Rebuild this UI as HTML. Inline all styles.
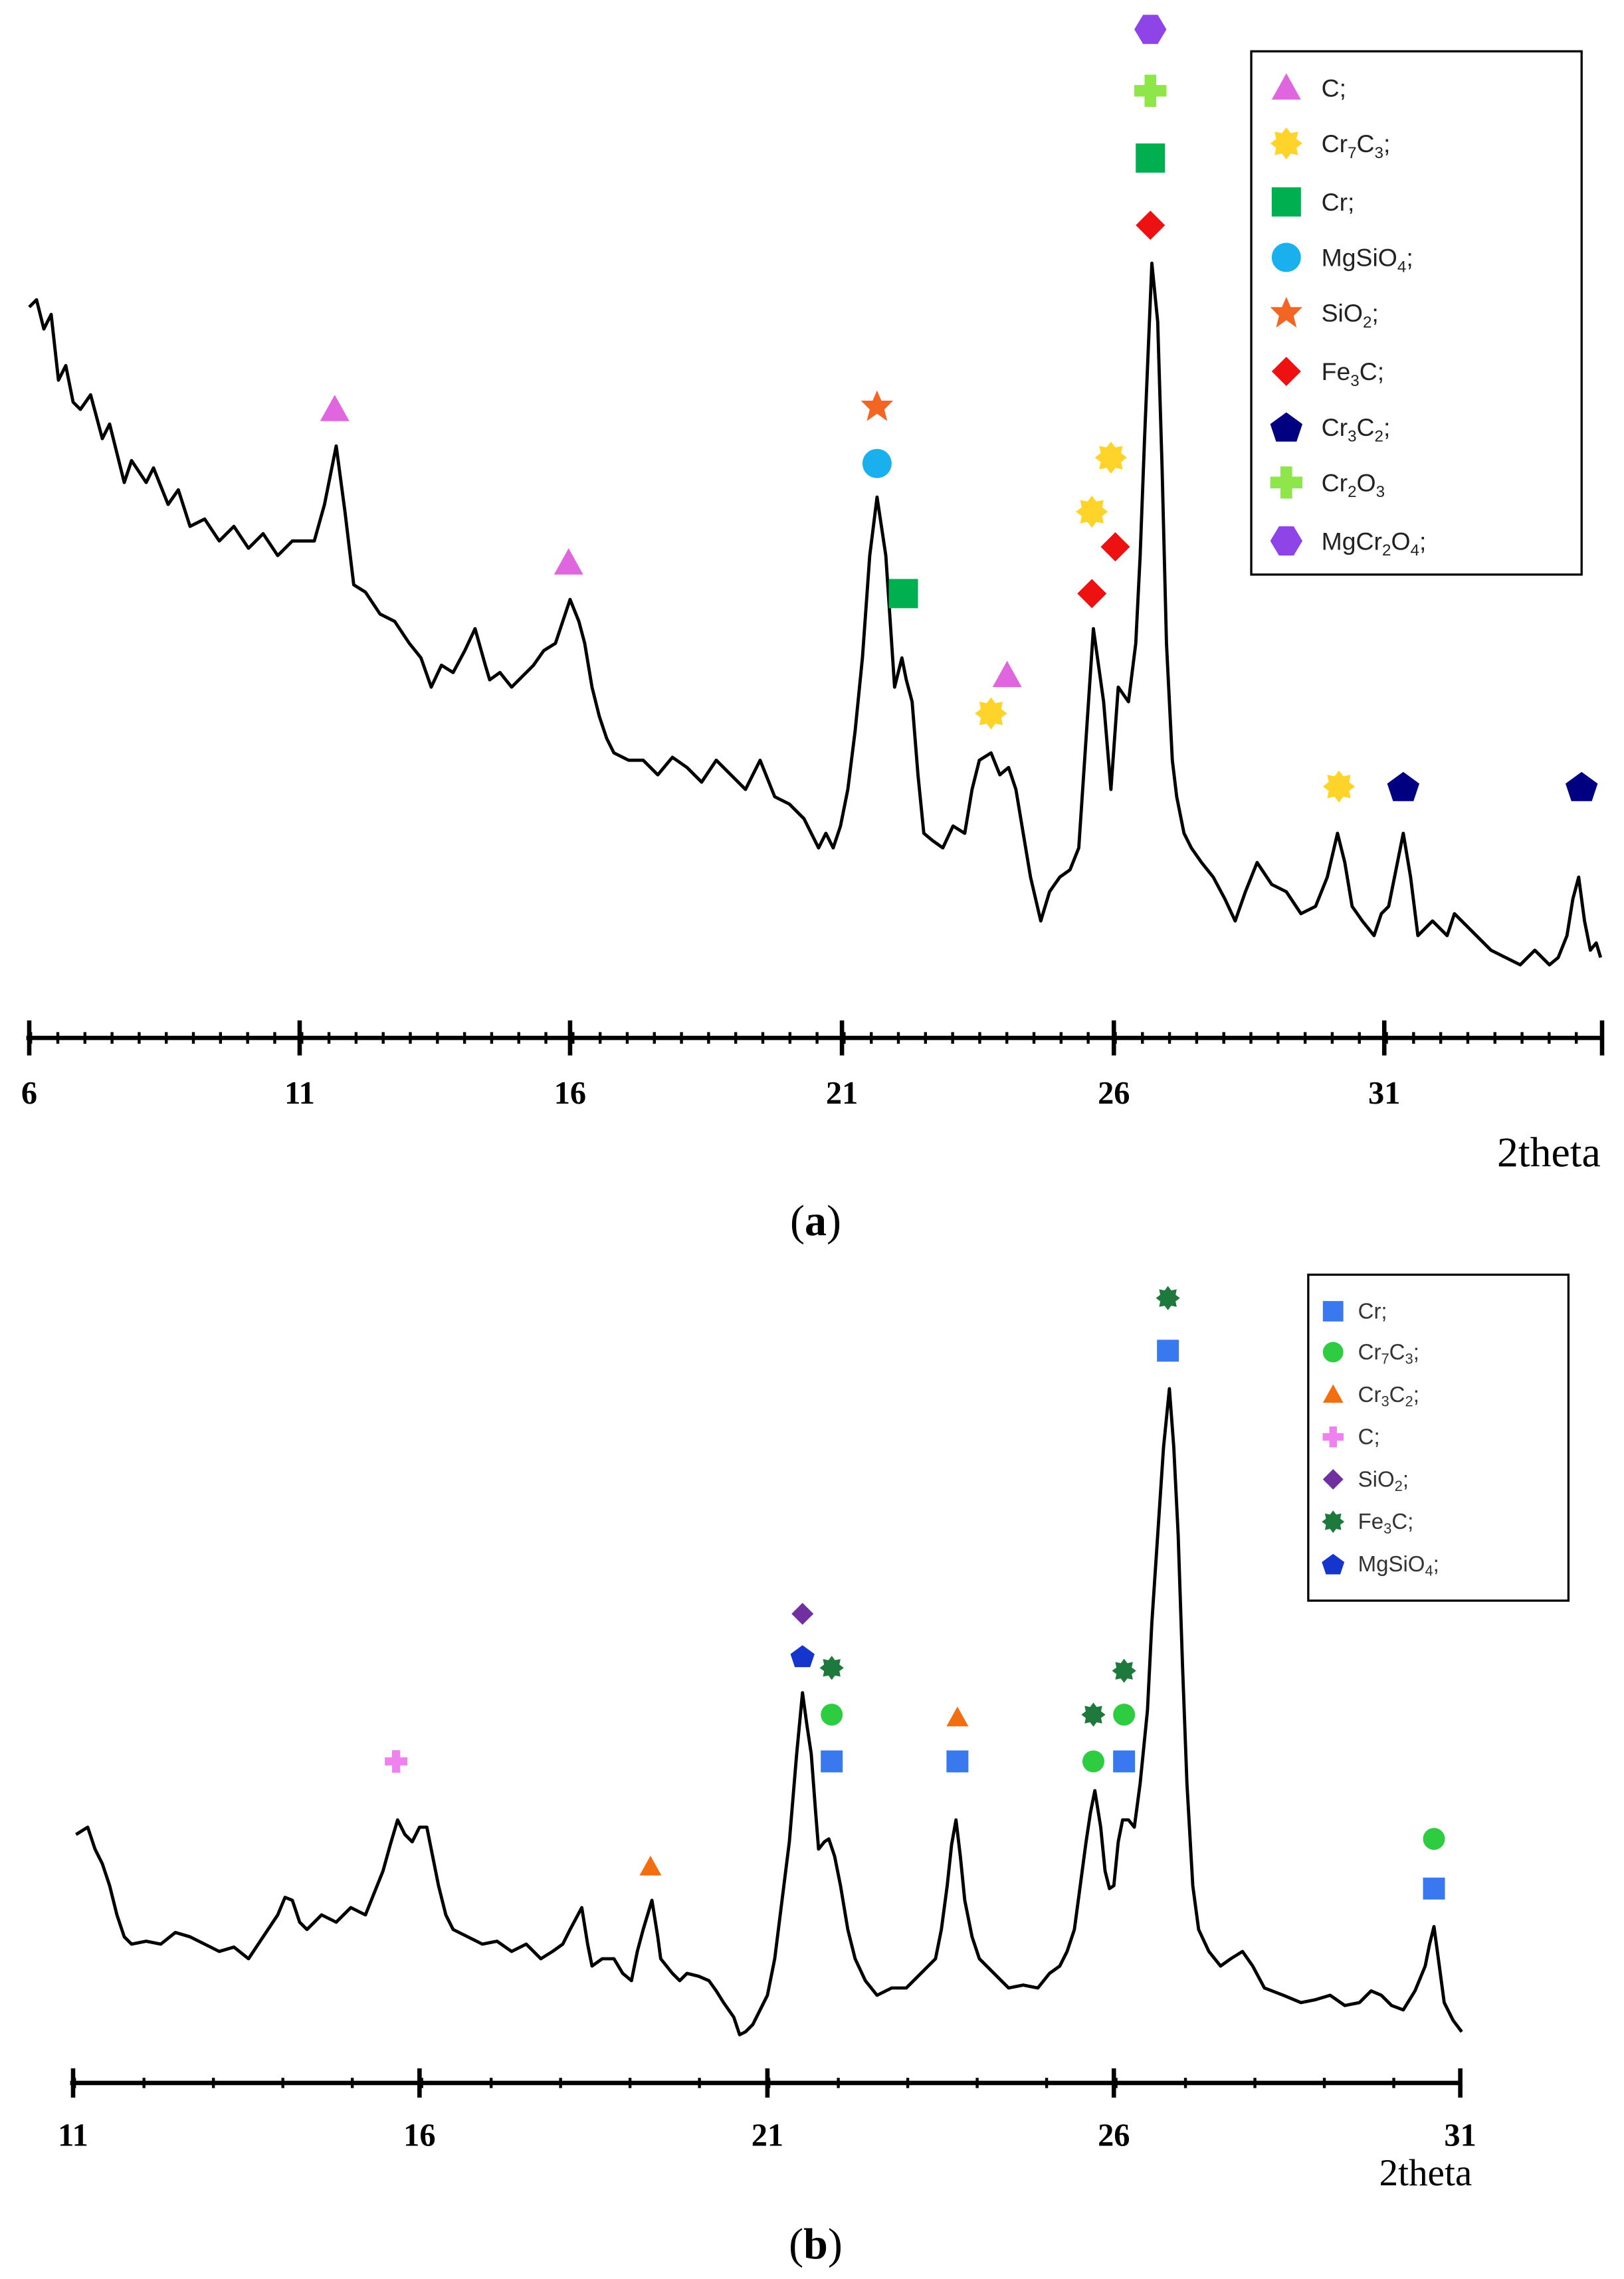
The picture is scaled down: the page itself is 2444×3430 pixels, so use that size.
<!DOCTYPE html>
<html><head><meta charset="utf-8"><style>html,body{margin:0;padding:0;background:#fff}svg{display:block}</style></head>
<body>
<svg width="2444" height="3430" viewBox="0 0 1111 1559" xmlns="http://www.w3.org/2000/svg">
<defs>
<path id="tri" d="M0,-10 L10,8 L-10,8Z"/>
<path id="sq" d="M-10,-10H10V10H-10Z"/>
<path id="dia" d="M0,-10 L10,0 L0,10 L-10,0Z"/>
<path id="plus" d="M-4,-11H4V-4H11V4H4V11H-4V4H-11V-4H-4Z"/>
<path id="hex" d="M-5,-10H5L11,0L5,10H-5L-11,0Z"/>
<path id="pent" d="M0,-10L11,-2L7,10H-7L-11,-2Z"/>
<path id="star5" d="M0,-11L3,-4L11,-4L5,2L7,10L0,5L-7,10L-5,2L-11,-4L-3,-4Z"/>
<path id="sun" d="M0,-11L3,-7L8,-8L7,-3L11,0L7,3L8,8L3,7L0,11L-3,7L-8,8L-7,3L-11,0L-7,-3L-8,-8L-3,-7Z"/>
</defs>
<g font-family="Liberation Serif, serif" font-weight="bold" font-size="22" fill="#000">
<!-- chart a axis -->
<line x1="18" y1="710" x2="1097" y2="710" stroke="#000" stroke-width="3"/>
<line x1="20" y1="710" x2="1097" y2="710" stroke="#000" stroke-width="8" stroke-dasharray="2 16.55"/>
<g stroke="#000" stroke-width="3">
<line x1="20" y1="698" x2="20" y2="722"/><line x1="205" y1="698" x2="205" y2="722"/><line x1="390" y1="698" x2="390" y2="722"/><line x1="576" y1="698" x2="576" y2="722"/><line x1="762" y1="698" x2="762" y2="722"/><line x1="947" y1="698" x2="947" y2="722"/><line x1="1096" y1="698" x2="1096" y2="722"/></g>
<text x="20" y="755" text-anchor="middle">6</text><text x="205" y="755" text-anchor="middle">11</text><text x="390" y="755" text-anchor="middle">16</text><text x="576" y="755" text-anchor="middle">21</text><text x="762" y="755" text-anchor="middle">26</text><text x="947" y="755" text-anchor="middle">31</text>
<text x="1095" y="798" text-anchor="end" font-weight="normal" font-size="29">2theta</text>
<text x="558" y="845" text-anchor="middle" font-weight="normal" font-size="30">(<tspan font-weight="bold">a</tspan>)</text>
</g>
<polyline fill="none" stroke="#000" stroke-width="2.2" stroke-linejoin="round" points="20,210 25,205 30,225 35,215 40,260 45,250 50,275 55,280 62,270 70,300 75,290 85,330 90,315 100,330 105,320 115,345 122,335 130,360 140,355 150,370 160,360 170,375 180,365 190,380 200,370 215,370 222,345 230,305 236,350 242,400 250,405 260,420 270,425 280,440 288,450 295,470 302,455 310,460 318,445 325,430 332,455 335,465 342,460 350,470 358,462 365,455 372,445 380,440 385,425 390,410 396,425 400,440 405,470 410,490 415,505 420,515 430,520 440,520 450,530 460,518 470,525 480,535 490,520 500,530 510,540 520,520 530,545 540,550 550,560 560,580 565,570 570,580 575,565 580,540 585,500 590,450 595,380 600,340 606,380 612,470 617,450 620,465 624,480 628,530 632,570 638,575 645,580 652,565 660,570 665,540 670,520 678,515 684,530 690,525 695,540 700,570 705,600 712,630 718,610 725,600 732,595 738,580 742,520 748,430 755,480 760,540 765,470 772,480 777,440 780,380 783,300 788,180 792,220 795,320 798,440 802,520 805,545 810,570 815,580 822,590 830,600 838,615 845,630 852,610 860,590 870,605 880,610 890,625 900,620 908,600 915,570 920,590 925,620 932,630 940,640 945,625 950,620 955,595 960,570 965,600 970,640 980,630 990,640 995,625 1000,630 1010,640 1020,650 1030,655 1040,660 1050,650 1060,660 1066,655 1072,640 1076,615 1080,600 1084,630 1088,650 1092,645 1095,655"/>
<!-- markers a -->
<g fill="#e066e0"><use href="#tri" x="229" y="280"/><use href="#tri" x="389" y="385"/><use href="#tri" x="689" y="462"/></g>
<g fill="#ffd42a"><use href="#sun" x="678" y="488"/><use href="#sun" x="747" y="350"/><use href="#sun" x="760" y="313"/><use href="#sun" x="916" y="538"/></g>
<use href="#star5" x="600" y="278" fill="#f26522"/>
<circle cx="600" cy="317" r="10" fill="#1ab0ee"/>
<g fill="#00b050"><use href="#sq" x="618" y="406"/><use href="#sq" x="787" y="108"/></g>
<g fill="#ee1111"><use href="#dia" x="747" y="406"/><use href="#dia" x="763" y="374"/><use href="#dia" x="787" y="154"/></g>
<use href="#plus" x="787" y="62" fill="#8ee64a"/>
<use href="#hex" x="787" y="20" fill="#8f44e8"/>
<g fill="#000080"><use href="#pent" x="960" y="538"/><use href="#pent" x="1082" y="538"/></g>
<!-- legend a -->
<rect x="856" y="35" width="226" height="358" fill="#fff" stroke="#000" stroke-width="1.5"/>
<g font-family="Liberation Sans, sans-serif" font-size="17" fill="#222">
<use href="#tri" x="880" y="60" fill="#e066e0"/><text x="904" y="66">C;</text>
<use href="#sun" x="880" y="98" fill="#ffd42a"/><text x="904" y="104">Cr<tspan font-size="11" dy="4">7</tspan><tspan dy="-4">C</tspan><tspan font-size="11" dy="4">3</tspan><tspan dy="-4">;</tspan></text>
<use href="#sq" x="880" y="138" fill="#00b050"/><text x="904" y="144">Cr;</text>
<circle cx="880" cy="176" r="10" fill="#1ab0ee"/><text x="904" y="182">MgSiO<tspan font-size="11" dy="4">4</tspan><tspan dy="-4">;</tspan></text>
<use href="#star5" x="880" y="214" fill="#f26522"/><text x="904" y="220">SiO<tspan font-size="11" dy="4">2</tspan><tspan dy="-4">;</tspan></text>
<use href="#dia" x="880" y="254" fill="#ee1111"/><text x="904" y="260">Fe<tspan font-size="11" dy="4">3</tspan><tspan dy="-4">C;</tspan></text>
<use href="#pent" x="880" y="292" fill="#000080"/><text x="904" y="298">Cr<tspan font-size="11" dy="4">3</tspan><tspan dy="-4">C</tspan><tspan font-size="11" dy="4">2</tspan><tspan dy="-4">;</tspan></text>
<use href="#plus" x="880" y="330" fill="#8ee64a"/><text x="904" y="336">Cr<tspan font-size="11" dy="4">2</tspan><tspan dy="-4">O</tspan><tspan font-size="11" dy="4">3</tspan></text>
<use href="#hex" x="880" y="370" fill="#8f44e8"/><text x="904" y="376">MgCr<tspan font-size="11" dy="4">2</tspan><tspan dy="-4">O</tspan><tspan font-size="11" dy="4">4</tspan><tspan dy="-4">;</tspan></text>
</g>

<!-- chart b -->
<g font-family="Liberation Serif, serif" font-weight="bold" font-size="22" fill="#000">
<line x1="48" y1="1425" x2="1000" y2="1425" stroke="#000" stroke-width="3"/>
<line x1="50" y1="1425" x2="1000" y2="1425" stroke="#000" stroke-width="7" stroke-dasharray="2 45.5"/>
<g stroke="#000" stroke-width="3"><line x1="50" y1="1415" x2="50" y2="1435"/><line x1="287" y1="1415" x2="287" y2="1435"/><line x1="525" y1="1415" x2="525" y2="1435"/><line x1="762" y1="1415" x2="762" y2="1435"/><line x1="999" y1="1415" x2="999" y2="1435"/></g>
<text x="50" y="1468" text-anchor="middle">11</text><text x="287" y="1468" text-anchor="middle">16</text><text x="525" y="1468" text-anchor="middle">21</text><text x="762" y="1468" text-anchor="middle">26</text><text x="999" y="1468" text-anchor="middle">31</text>
<text x="1007" y="1495" text-anchor="end" font-weight="normal" font-size="26">2theta</text>
<text x="558" y="1545" text-anchor="middle" font-weight="normal" font-size="30">(<tspan font-weight="bold">b</tspan>)</text>
</g>
<polyline fill="none" stroke="#000" stroke-width="2.2" stroke-linejoin="round" points="52,1255 60,1250 65,1265 70,1275 75,1290 80,1310 85,1325 90,1330 100,1328 110,1330 120,1322 130,1325 140,1330 150,1335 160,1332 170,1340 180,1325 190,1310 195,1298 200,1300 205,1315 210,1320 220,1310 230,1315 240,1305 250,1310 256,1295 262,1280 267,1262 272,1245 277,1255 282,1260 287,1250 292,1250 296,1270 300,1290 305,1310 310,1320 320,1325 330,1330 340,1328 350,1335 360,1330 370,1340 378,1335 385,1330 390,1320 398,1305 402,1330 405,1345 412,1340 420,1340 426,1350 432,1355 436,1335 440,1320 446,1300 450,1325 452,1340 456,1345 460,1350 465,1355 470,1350 478,1352 485,1355 490,1362 495,1370 502,1380 506,1392 510,1390 515,1385 520,1375 525,1365 530,1340 535,1300 540,1260 545,1200 549,1158 552,1180 555,1200 558,1240 560,1265 564,1260 567,1258 571,1270 575,1290 580,1320 585,1340 592,1355 600,1365 610,1360 620,1360 630,1350 640,1340 644,1320 648,1290 651,1262 654,1245 657,1270 660,1300 665,1325 670,1340 680,1350 690,1360 700,1358 710,1360 718,1350 725,1345 730,1335 735,1320 739,1290 743,1260 746,1240 749,1225 753,1250 756,1280 759,1292 762,1290 765,1260 768,1245 772,1245 776,1250 780,1220 785,1170 788,1110 792,1050 796,990 800,950 803,990 806,1050 809,1140 812,1220 816,1290 820,1320 827,1335 835,1345 842,1340 850,1335 857,1345 865,1360 878,1365 890,1370 900,1368 910,1365 920,1372 930,1370 938,1362 945,1365 952,1372 960,1375 968,1362 975,1345 978,1330 981,1318 984,1340 988,1370 994,1382 1000,1390"/>
<!-- markers b -->
<use href="#plus" x="271" y="1205" fill="#ee82ee" transform="translate(271 1205) scale(0.7) translate(-271 -1205)"/>
<g fill="#f26e10"><use href="#tri" x="0" y="0" transform="translate(445 1277) scale(0.75)"/><use href="#tri" transform="translate(655 1175) scale(0.75)"/></g>
<use href="#dia" transform="translate(549 1104) scale(0.75)" fill="#7030a0"/>
<use href="#pent" transform="translate(549 1133) scale(0.75)" fill="#1535cc"/>
<g fill="#1e7a3c"><use href="#sun" transform="translate(569 1141) scale(0.75)"/><use href="#sun" transform="translate(748 1173) scale(0.75)"/><use href="#sun" transform="translate(769 1143) scale(0.75)"/><use href="#sun" transform="translate(799 888) scale(0.75)"/></g>
<g fill="#2ecc40"><circle cx="569" cy="1173" r="7.5"/><circle cx="748" cy="1205" r="7.5"/><circle cx="769" cy="1173" r="7.5"/><circle cx="981" cy="1258" r="7.5"/></g>
<g fill="#3a78f0"><use href="#sq" transform="translate(569 1205) scale(0.75)"/><use href="#sq" transform="translate(655 1205) scale(0.75)"/><use href="#sq" transform="translate(769 1205) scale(0.75)"/><use href="#sq" transform="translate(799 924) scale(0.75)"/><use href="#sq" transform="translate(981 1292) scale(0.75)"/></g>
<!-- legend b -->
<rect x="895" y="872" width="178" height="223" fill="#fff" stroke="#000" stroke-width="1.5"/>
<g font-family="Liberation Sans, sans-serif" font-size="15" fill="#333">
<use href="#sq" transform="translate(912 897) scale(0.7)" fill="#3a78f0"/><text x="929" y="902">Cr;</text>
<circle cx="912" cy="925" r="7" fill="#2ecc40"/><text x="929" y="930">Cr<tspan font-size="10" dy="3">7</tspan><tspan dy="-3">C</tspan><tspan font-size="10" dy="3">3</tspan><tspan dy="-3">;</tspan></text>
<use href="#tri" transform="translate(912 954) scale(0.7)" fill="#f26e10"/><text x="929" y="959">Cr<tspan font-size="10" dy="3">3</tspan><tspan dy="-3">C</tspan><tspan font-size="10" dy="3">2</tspan><tspan dy="-3">;</tspan></text>
<use href="#plus" transform="translate(912 983) scale(0.65)" fill="#ee82ee"/><text x="929" y="988">C;</text>
<use href="#dia" transform="translate(912 1012) scale(0.7)" fill="#7030a0"/><text x="929" y="1017">SiO<tspan font-size="10" dy="3">2</tspan><tspan dy="-3">;</tspan></text>
<use href="#sun" transform="translate(912 1041) scale(0.7)" fill="#1e7a3c"/><text x="929" y="1046">Fe<tspan font-size="10" dy="3">3</tspan><tspan dy="-3">C;</tspan></text>
<use href="#pent" transform="translate(912 1070) scale(0.7)" fill="#1535cc"/><text x="929" y="1075">MgSiO<tspan font-size="10" dy="3">4</tspan><tspan dy="-3">;</tspan></text>
</g>
</svg>
</body></html>
